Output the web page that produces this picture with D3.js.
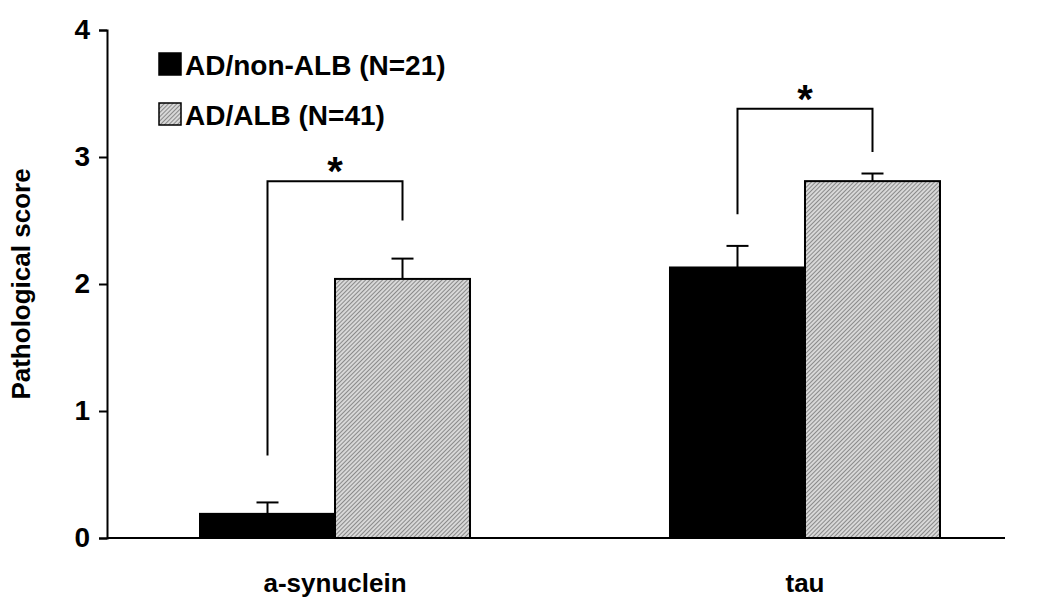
<!DOCTYPE html><html><head><meta charset="utf-8"><script src="https://cdn.jsdelivr.net/npm/d3@7"></script>
<style>body{margin:0;background:#fff}</style></head><body><svg id="c" width="1050" height="608"></svg>
<script>
const categories=["a-synuclein","tau"];
const seriesNames=["AD/non-ALB (N=21)","AD/ALB (N=41)"];
const nonALB=[0.19,2.13];
const nonALBErr=[0.09,0.17];
const ALB=[2.04,2.81];
const ALBErr=[0.16,0.06];
const yTicks=[0,1,2,3,4];
const brackets=[{cat:"a-synuclein",left:0.65,top:2.81,right:2.5},{cat:"tau",left:2.55,top:3.38,right:3.04}];

const svg=d3.select("#c");
const defs=svg.append("defs");
const p=defs.append("pattern").attr("id","h").attr("patternUnits","userSpaceOnUse").attr("width",3).attr("height",3).attr("patternTransform","rotate(45)");
p.append("rect").attr("width",3).attr("height",3).attr("fill","#d8d8d8");
p.append("line").attr("x1",0).attr("y1",0).attr("x2",0).attr("y2",3).attr("stroke","#555").attr("stroke-width",1.2);
const y=d3.scaleLinear().domain([0,4]).range([538,30]);
const x=d3.scaleBand().domain(categories).range([200,940]).paddingInner(0.4255).paddingOuter(0);
const xs=d3.scaleBand().domain([0,1]).range([0,x.bandwidth()]);
const font="Liberation Sans, Arial, sans-serif";
const data=[[nonALB,nonALBErr,"#000"],[ALB,ALBErr,"url(#h)"]];
data.forEach(([v,e,f],s)=>{
 categories.forEach((c,i)=>{
  const x0=x(c)+xs(s), w=xs.bandwidth(), cx=x0+w/2;
  svg.append("line").attr("x1",cx).attr("x2",cx).attr("y1",y(v[i])).attr("y2",y(v[i]+e[i])).attr("stroke","#000").attr("stroke-width",2);
  svg.append("line").attr("x1",cx-11).attr("x2",cx+11).attr("y1",y(v[i]+e[i])).attr("y2",y(v[i]+e[i])).attr("stroke","#000").attr("stroke-width",2);
  svg.append("rect").attr("x",x0).attr("y",y(v[i])).attr("width",w).attr("height",y(0)-y(v[i])).attr("fill",f).attr("stroke","#000").attr("stroke-width",2);
 });
});
brackets.forEach((b,i)=>{
 const lx=x(b.cat)+xs(0)+xs.bandwidth()/2, rx=x(b.cat)+xs(1)+xs.bandwidth()/2;
 svg.append("path").attr("d",`M${lx},${y(b.left)}V${y(b.top)}H${rx}V${y(b.right)}`).attr("fill","none").attr("stroke","#000").attr("stroke-width",2);
 svg.append("text").attr("x",(lx+rx)/2).attr("y",y(b.top)+4).attr("text-anchor","middle").attr("font-family",font).attr("font-weight","bold").attr("font-size",40).text("*");
});
const ya=svg.append("g").attr("transform","translate(107,0)").call(d3.axisLeft(y).tickValues(yTicks).tickFormat(d3.format("d")).tickSize(8));
ya.select(".domain").attr("stroke-width",2);ya.selectAll("line").attr("stroke-width",2);
ya.selectAll("text").attr("font-family",font).attr("font-weight","bold").attr("font-size",28).attr("dx",-6);
svg.append("line").attr("x1",107).attr("x2",1005).attr("y1",538).attr("y2",538).attr("stroke","#000").attr("stroke-width",2);
categories.forEach(c=>svg.append("text").attr("x",x(c)+x.bandwidth()/2).attr("y",592).attr("text-anchor","middle").attr("font-family",font).attr("font-weight","bold").attr("font-size",26).text(c));
svg.append("text").attr("transform","translate(30,284) rotate(-90)").attr("text-anchor","middle").attr("font-family",font).attr("font-weight","bold").attr("font-size",26).text("Pathological score");
seriesNames.forEach((n,i)=>{
 const yy=64+i*50;
 svg.append("rect").attr("x",159).attr("y",yy-11).attr("width",22).attr("height",22).attr("fill",i?"url(#h)":"#000").attr("stroke","#000").attr("stroke-width",1.5);
 svg.append("text").attr("x",185).attr("y",yy+11).attr("font-family",font).attr("font-weight","bold").attr("font-size",28).text(n);
});
</script></body></html>
